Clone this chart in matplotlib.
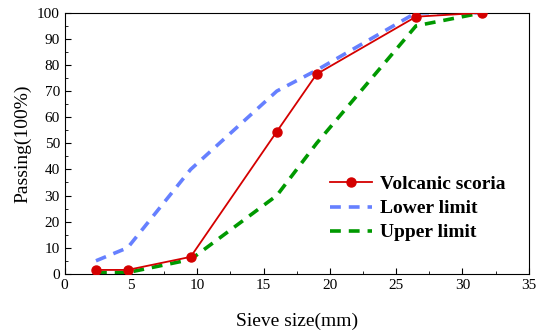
import matplotlib
matplotlib.use("Agg")
import matplotlib.pyplot as plt
from matplotlib.ticker import MultipleLocator

sieve = [2.36, 4.75, 9.5, 16, 19, 26.5, 31.5]
scoria = [1.5, 1.5, 6.5, 54.5, 76.5, 98.5, 100]
lower = [5, 10, 40, 70, 78, 100, 100]
upper = [0.5, 0.5, 5.5, 30, 50, 95, 100]

plt.rcParams['font.family'] = ['Liberation Serif', 'DejaVu Serif']

fig = plt.figure(figsize=(5.39, 3.36), dpi=100)
ax = fig.add_axes([0.120, 0.185, 0.861, 0.777])

ax.plot(sieve, lower, color='#6680ff', lw=2.6, dashes=(3, 2.2), label='Lower limit', zorder=2)
ax.plot(sieve, upper, color='#009900', lw=2.6, dashes=(3, 2.2), label='Upper limit', zorder=2)
ax.plot(sieve, scoria, color='#d40000', lw=1.3, marker='o', ms=6.5, label='Volcanic scoria', zorder=3)

ax.set_xlim(0, 35)
ax.set_ylim(0, 100)
ax.xaxis.set_major_locator(MultipleLocator(5))
ax.xaxis.set_minor_locator(MultipleLocator(2.5))
ax.yaxis.set_major_locator(MultipleLocator(10))
ax.yaxis.set_minor_locator(MultipleLocator(5))
ax.tick_params(which='both', direction='in', top=False, right=False, labelsize=11)
ax.tick_params(which='major', length=4)
ax.tick_params(which='minor', length=2.5)

ax.set_xlabel('Sieve size(mm)', fontsize=14, labelpad=15)
ax.set_ylabel('Passing(100%)', fontsize=14, labelpad=4)

h, l = ax.get_legend_handles_labels()
order = [2, 0, 1]
ax.legend([h[i] for i in order], [l[i] for i in order], loc='upper left',
          bbox_to_anchor=(0.571, 0.376), frameon=False, prop={'weight': 'bold', 'size': 14},
          handlelength=2.2, handletextpad=0.4, labelspacing=0.33,
          borderpad=0, borderaxespad=0)

fig.savefig('out.png', dpi=100)
